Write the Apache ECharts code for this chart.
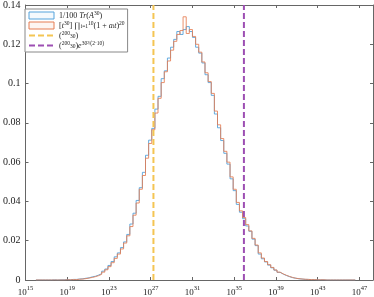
<!DOCTYPE html>
<html>
<head>
<meta charset="utf-8">
<style>
  html, body { margin: 0; padding: 0; background: #fff; }
  #chart { width: 374px; height: 297px; }
</style>
<script src="https://cdn.jsdelivr.net/npm/echarts@6/dist/echarts.min.js"></script>
</head>
<body>
<div id="chart"></div>
<script>
// bins in log10 space
const binStart = 16.0
const binWidth = 0.3

// 1/100 Tr(A^30)
const traceVals = [
  0, 0, 0, 0, 0, 0.0001, 0, 0.0001, 0.0001, 0.0002,
  0.0001, 0.0003, 0.0003, 0.0005, 0.0006, 0.0009, 0.0011, 0.0016, 0.0019, 0.0025,
  0.0032, 0.0045, 0.0056, 0.0074, 0.0094, 0.0118, 0.0138, 0.0165, 0.0194, 0.0232,
  0.0285, 0.034, 0.0405, 0.047, 0.0548, 0.0635, 0.0712, 0.0772, 0.087, 0.0935,
  0.1025, 0.1065, 0.113, 0.1185, 0.1225, 0.1265, 0.125, 0.1275, 0.129, 0.1265,
  0.1235, 0.1185, 0.1155, 0.1105, 0.1045, 0.1005, 0.094, 0.0845, 0.0775, 0.071,
  0.0645, 0.059, 0.0515, 0.0455, 0.0385, 0.0345, 0.0312, 0.0275, 0.0248, 0.0208,
  0.0175, 0.0132, 0.0108, 0.0092, 0.0076, 0.0062, 0.005, 0.0039, 0.003, 0.0023,
  0.0017, 0.0012, 0.0009, 0.0006, 0.0005, 0.0003, 0.0003, 0.0002, 0.0002, 0.0001,
  0.0001, 0.0001, 0, 0, 0, 0, 0, 0, 0, 0,
  0, 0,
]

// [t^30] prod (1 + a_i t)^20
const coeffVals = [
  0, 0, 0, 0, 0, 0, 0, 0, 0, 0.0001,
  0.0001, 0.0002, 0.0002, 0.0004, 0.0005, 0.0007, 0.0010, 0.0013, 0.0017, 0.0022,
  0.0029, 0.0040, 0.0052, 0.0068, 0.0088, 0.0110, 0.0132, 0.0158, 0.0188, 0.0225,
  0.0272, 0.0330, 0.0392, 0.0462, 0.0532, 0.0620, 0.0695, 0.0765, 0.0850, 0.0925,
  0.1005, 0.1060, 0.1115, 0.1170, 0.1215, 0.1250, 0.1270, 0.1340, 0.1255, 0.1275,
  0.1240, 0.1200, 0.1160, 0.1110, 0.1055, 0.1010, 0.0950, 0.0860, 0.0790, 0.0720,
  0.0655, 0.0600, 0.0525, 0.0462, 0.0395, 0.0352, 0.0318, 0.0282, 0.0250, 0.0212,
  0.0178, 0.0138, 0.0112, 0.0094, 0.0078, 0.0064, 0.0051, 0.0040, 0.0031, 0.0024,
  0.0018, 0.0013, 0.0009, 0.0007, 0.0005, 0.0004, 0.0003, 0.0002, 0.0002, 0.0001,
  0.0001, 0.0001, 0, 0, 0, 0, 0, 0, 0, 0,
  0, 0,
]

// vertical reference lines (log10 of value)
const binomExp = 27.26
const boundExp = 35.93

const xTicks = [15, 19, 23, 27, 31, 35, 39, 43, 47]
const xMin = 15
const xMax = 48.3
const yMax = 0.14

const blue = '#55a3dc'
const orange = '#e57d52'
const yellow = '#f4c553'
const purple = '#9d4fb3'
const axisColor = '#666'

// histogram -> stair points
const stairs = vals => {
  const pts = [[binStart, 0]]
  vals.forEach((v, i) => pts.push([binStart + i * binWidth, v]))
  pts.push([binStart + vals.length * binWidth, 0])
  return pts
}

const legendText = {
  trace: '{n|1/100 }{i|Tr}{n|(}{i|A}{sup|30}{n|)}',
  coeff: '{n|[}{i|t}{sup|30}{n|] ∏}{sub|i=1}{sup|10}{n|(1 + }{i|a}{sub|i}{i|t}{n|)}{sup|20}',
  binom: '{n|(}{sup|200}{sub|30}{n|)}',
  bound: '{n|(}{sup|200}{sub|30}{n|)}{i|e}{sup|30²/(2·10)}',
}

const serif = 'Liberation Serif'

const chart = echarts.init(document.getElementById('chart'))

const axisCommon = {
  axisLine: { show: true, onZero: false, lineStyle: { color: axisColor, width: 1 } },
  axisTick: { show: true, inside: true, length: 3, lineStyle: { color: axisColor } },
  splitLine: { show: false },
}

chart.setOption({
  animation: false,
  grid: { left: 21, right: 1, top: 4, bottom: 15 },
  legend: {
    orient: 'vertical',
    left: 25,
    top: 9,
    padding: [2, 3, 2, 3],
    itemGap: 1,
    itemWidth: 25,
    itemHeight: 7,
    borderColor: '#888',
    borderWidth: 1,
    backgroundColor: '#fff',
    data: [
      { name: 'trace', icon: 'rect', itemStyle: { color: '#f4f9fd', borderColor: blue, borderWidth: 1 } },
      { name: 'coeff', icon: 'rect', itemStyle: { color: '#fdf5f1', borderColor: orange, borderWidth: 1 } },
      { name: 'binom', itemStyle: { opacity: 0 } },
      { name: 'bound', itemStyle: { opacity: 0 } },
    ],
    formatter: name => legendText[name],
    textStyle: {
      rich: {
        n: { fontFamily: serif, fontSize: 8, color: '#222', verticalAlign: 'bottom' },
        i: { fontFamily: serif, fontSize: 8, fontStyle: 'italic', color: '#222', verticalAlign: 'bottom' },
        sup: { fontFamily: serif, fontSize: 5.5, color: '#222', verticalAlign: 'top', padding: [0, 0, 3, 0] },
        sub: { fontFamily: serif, fontSize: 5.5, color: '#222', verticalAlign: 'bottom' },
      },
    },
  },
  xAxis: [
    {
      type: 'value',
      min: xMin,
      max: xMax,
      ...axisCommon,
      axisTick: { ...axisCommon.axisTick, customValues: xTicks },
      axisLabel: {
        customValues: xTicks,
        margin: 5,
        formatter: v => '{b|10}{s|' + v + '}',
        rich: {
          b: { fontFamily: serif, fontSize: 9, color: '#222', verticalAlign: 'bottom' },
          s: { fontFamily: serif, fontSize: 6.5, color: '#222', verticalAlign: 'top', padding: [0, 0, 5, 0] },
        },
      },
    },
    {
      type: 'value',
      position: 'top',
      min: xMin,
      max: xMax,
      ...axisCommon,
      axisTick: { ...axisCommon.axisTick, customValues: xTicks },
      axisLabel: { show: false },
    },
  ],
  yAxis: [
    {
      type: 'value',
      min: 0,
      max: yMax,
      interval: 0.02,
      ...axisCommon,
      axisLabel: { margin: 5, fontFamily: serif, fontSize: 10, color: '#222' },
    },
    {
      type: 'value',
      position: 'right',
      min: 0,
      max: yMax,
      interval: 0.02,
      ...axisCommon,
      axisLabel: { show: false },
    },
  ],
  series: [
    {
      name: 'trace',
      type: 'line',
      step: 'end',
      symbol: 'none',
      data: stairs(traceVals),
      lineStyle: { color: blue, width: 1, opacity: 0.9 },
      itemStyle: { color: blue },
    },
    {
      name: 'coeff',
      type: 'line',
      step: 'end',
      symbol: 'none',
      data: stairs(coeffVals),
      lineStyle: { color: orange, width: 1, opacity: 0.85 },
      itemStyle: { color: orange },
    },
    {
      name: 'binom',
      type: 'line',
      symbol: 'none',
      data: [[binomExp, 0], [binomExp, yMax]],
      lineStyle: { color: yellow, width: 2, type: [6, 3] },
      itemStyle: { color: yellow },
    },
    {
      name: 'bound',
      type: 'line',
      symbol: 'none',
      data: [[boundExp, 0], [boundExp, yMax]],
      lineStyle: { color: purple, width: 2, type: [6, 3] },
      itemStyle: { color: purple },
    },
  ],
})
</script>
</body>
</html>
